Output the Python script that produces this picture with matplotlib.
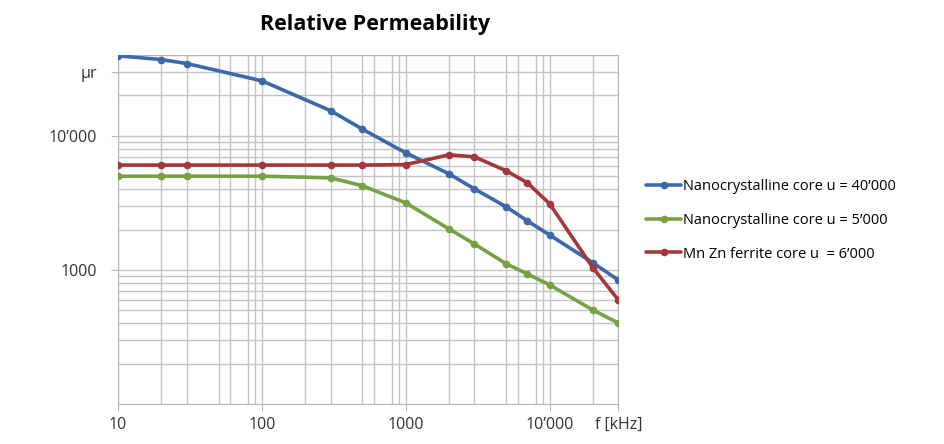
import matplotlib.pyplot as plt
from matplotlib.ticker import FixedLocator, LogLocator, NullFormatter

plt.rcParams["font.family"] = ["Open Sans", "DejaVu Sans"]

freq_khz = [10, 20, 30, 100, 300, 500, 1000, 2000, 3000, 5000, 7000, 10000, 20000, 30000]

nano_40k = [39500, 37000, 34600, 25700, 15400, 11200, 7460, 5200, 4020, 2950, 2320, 1820, 1130, 840]
nano_5k = [5000, 5000, 5000, 5000, 4860, 4240, 3160, 2020, 1560, 1110, 934, 773, 502, 402]
mnzn_6k = [6050, 6050, 6050, 6050, 6050, 6050, 6100, 7220, 6970, 5480, 4460, 3110, 1035, 597]

series_labels = [
    "Nanocrystalline core u = 40\u2019000",
    "Nanocrystalline core u = 5\u2019000",
    "Mn Zn ferrite core u  = 6\u2019000",
]
series_colors = ["#3d69a8", "#78a145", "#a3383c"]

x_ticks = [10, 100, 1000, 10000, 30000]
x_tick_labels = ["10", "100", "1000", "10\u2019000", "f [kHz]"]
y_ticks = [1000, 10000, 30000]
y_tick_labels = ["1000", "10\u2019000", "\u00b5r"]


def main():
    fig = plt.figure(figsize=(9.44, 4.44), dpi=100)
    ax = fig.add_axes([0.125, 0.09, 0.53, 0.786])

    for values, label, color in zip([nano_40k, nano_5k, mnzn_6k], series_labels, series_colors):
        ax.plot(freq_khz, values, color=color, lw=2.6, marker="o", ms=4.5,
                label=label, solid_capstyle="round", zorder=3)

    ax.set_xscale("log")
    ax.set_yscale("log")
    ax.set_xlim(10, 30000)
    ax.set_ylim(100, 40000)

    ax.xaxis.set_major_locator(FixedLocator(x_ticks))
    ax.set_xticklabels(x_tick_labels)
    ax.xaxis.set_minor_locator(LogLocator(base=10, subs=[2, 3, 5, 6, 8, 9]))
    ax.xaxis.set_minor_formatter(NullFormatter())

    ax.yaxis.set_major_locator(FixedLocator(y_ticks))
    ax.set_yticklabels(y_tick_labels)
    ax.yaxis.set_minor_locator(LogLocator(base=10, subs=[2, 3, 4, 5, 6, 7, 8, 9]))
    ax.yaxis.set_minor_formatter(NullFormatter())

    ax.grid(True, which="both", color="#c4c4c4", lw=1.0)
    ax.set_axisbelow(True)
    for spine in ax.spines.values():
        spine.set_color("#b8b8b8")
    ax.tick_params(which="major", length=5, color="#b8b8b8", labelsize=11.5,
                   labelcolor="#333333")
    ax.tick_params(axis="x", which="major", pad=4)
    ax.tick_params(axis="y", which="major", pad=10)
    ax.tick_params(which="minor", length=0)

    ax.set_title("Relative Permeability", fontsize=15.5, fontweight="bold", pad=18, x=0.514)

    ax.legend(loc="center left", bbox_to_anchor=(1.03, 0.527), frameon=False,
              fontsize=10.5, handlelength=2.4, handletextpad=0.1, labelspacing=1.3)

    fig.savefig("out.png", dpi=100)
    plt.close(fig)


if __name__ == "__main__":
    main()
